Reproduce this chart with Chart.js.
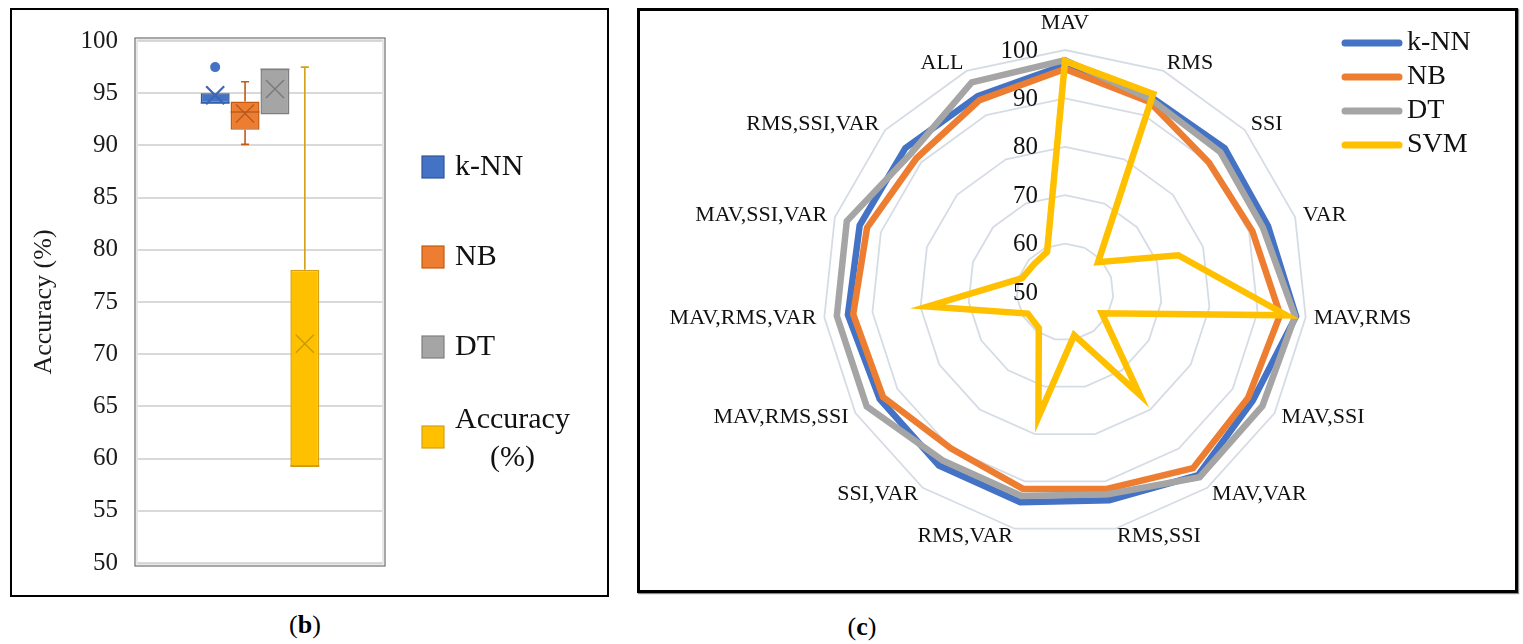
<!doctype html>
<html lang="en">
  <head>
    <meta charset="utf-8">
    <title>Accuracy box plot and radar chart</title>
    <script src="https://cdn.jsdelivr.net/npm/chart.js@4.4.1/dist/chart.umd.min.js"></script>
    <style>
      body { margin: 0; background: #fff; font-family: "Liberation Serif", serif; }
      .panel { position: absolute; box-sizing: border-box; border: 2px solid #000; }
      #panel-b { left: 10px; top: 8px; width: 599px; height: 589px; }
      #panel-c { left: 637px; top: 8px; width: 881px; height: 585px; border-width: 3px; box-shadow: 1px 1px 1px #888; }
      canvas { display: block; }
      .caption { position: absolute; width: 100px; text-align: center; font-size: 26px; line-height: 30px; color: #000; }
    </style>
  </head>

  <body>
    <div class="panel" id="panel-b"><canvas id="box-chart" width="595" height="585"></canvas></div>
    <div class="caption" style="left:255px; top:610px">(<b>b</b>)</div>

    <div class="panel" id="panel-c"><canvas id="radar-chart" width="875" height="579"></canvas></div>
    <div class="caption" style="left:812px; top:612px">(<b>c</b>)</div>

    <script>
        // ---- (b) box plot values ----
        const boxNames = ['k-NN', 'NB', 'DT', 'Accuracy (%)']
        const boxQ1 = [94.05, 91.5, 92.95, 59.2]
        const boxMedian = [94.05, 93.2, 97.3, 59.3]
        const boxQ3 = [95.0, 94.2, 97.3, 78.1]
        const boxMin = [94.05, 90.1, 92.95, 59.2]
        const boxMax = [95.0, 96.1, 97.3, 97.5]
        const boxMean = [94.8, 93.05, 95.4, 71.0]
        const boxOutliers = [[97.5], [], [], []]

        // ---- (c) radar values ----
        const featureSets = ['MAV', 'RMS', 'SSI', 'VAR', 'MAV,RMS', 'MAV,SSI', 'MAV,VAR', 'RMS,SSI',
            'RMS,VAR', 'SSI,VAR', 'MAV,RMS,SSI', 'MAV,RMS,VAR', 'MAV,SSI,VAR', 'RMS,SSI,VAR', 'ALL']
        const knnAcc = [96.9, 94.0, 94.4, 94.1, 98.0, 94.8, 96.8, 94.0, 94.4, 94.3, 94.2, 95.1, 94.6, 94.4, 94.3]
        const nbAcc = [96.1, 93.0, 90.0, 90.7, 94.7, 93.7, 95.0, 91.6, 91.6, 90.0, 93.4, 94.0, 93.0, 91.3, 93.4]
        const dtAcc = [97.9, 93.6, 93.2, 93.0, 97.8, 97.1, 97.3, 92.7, 93.1, 93.0, 97.3, 97.4, 97.4, 92.8, 97.4]
        const svmAcc = [97.7, 94.8, 59.2, 74.6, 96.0, 58.8, 76.2, 59.1, 76.4, 59.2, 58.9, 78.5, 59.3, 58.6, 59.1]

        const SERIF = 'Liberation Serif'

        const boxStyles = [
            { fill: '#4472C4', edge: '#2F5597', mark: '#3A66B8' },
            { fill: '#ED7D31', edge: '#C55A11', mark: '#B85A1C' },
            { fill: '#A5A5A5', edge: '#7F7F7F', mark: '#7A7A7A' },
            { fill: '#FFC000', edge: '#D4A017', mark: '#C99A06' },
        ]

        // legend drawn beside the plot (box or line marker)
        const sideLegend = {
            id: 'sideLegend',
            afterDraw(chart, args, opts) {
                const ctx = chart.ctx
                ctx.save()
                ctx.font = opts.fontSize + 'px "' + SERIF + '"'
                ctx.fillStyle = '#111'
                ctx.textBaseline = 'middle'
                chart.data.datasets.forEach((ds, i) => {
                    const yc = opts.y + i * opts.rowGap
                    if (opts.marker === 'box') {
                        const s = opts.boxSize
                        ctx.fillStyle = ds.backgroundColor
                        ctx.fillRect(opts.x, yc - s / 2, s, s)
                        ctx.strokeStyle = ds.borderColor
                        ctx.lineWidth = 1.2
                        ctx.strokeRect(opts.x, yc - s / 2, s, s)
                    } else {
                        ctx.strokeStyle = ds.borderColor
                        ctx.lineWidth = 7
                        ctx.lineCap = 'round'
                        ctx.beginPath()
                        ctx.moveTo(opts.x + 3, yc)
                        ctx.lineTo(opts.x + opts.lineLength - 3, yc)
                        ctx.stroke()
                    }
                    ctx.fillStyle = '#111'
                    const tx = opts.textX
                    const maxW = chart.width - tx - 4
                    if (ctx.measureText(ds.label).width <= maxW) {
                        ctx.textAlign = 'left'
                        ctx.fillText(ds.label, tx, yc)
                    } else {
                        const lines = ds.label.split(' ')
                        const widest = Math.max(...lines.map(l => ctx.measureText(l).width))
                        ctx.textAlign = 'center'
                        lines.forEach((l, k) => {
                            ctx.fillText(l, tx + widest / 2, yc + 2 + (k - (lines.length - 1) / 2) * opts.lineHeight)
                        })
                    }
                })
                ctx.restore()
            }
        }

        // whiskers, medians, means and outliers on top of the floating bars
        const boxPlot = {
            id: 'boxPlot',
            beforeDatasetsDraw(chart) {
                const ctx = chart.ctx, y = chart.scales.y
                ctx.save()
                chart.data.datasets.forEach((ds, i) => {
                    const bar = chart.getDatasetMeta(i).data[0]
                    const cap = 4
                    ctx.strokeStyle = ds.borderColor
                    ctx.lineWidth = 1.6
                    const segs = [[boxQ3[i], boxMax[i]], [boxQ1[i], boxMin[i]]]
                    segs.forEach(([a, b]) => {
                        if (a === b) return
                        const pa = y.getPixelForValue(a), pb = y.getPixelForValue(b)
                        ctx.beginPath()
                        ctx.moveTo(bar.x, pa)
                        ctx.lineTo(bar.x, pb)
                        ctx.moveTo(bar.x - cap, pb)
                        ctx.lineTo(bar.x + cap, pb)
                        ctx.stroke()
                    })
                })
                ctx.restore()
            },
            afterDatasetsDraw(chart) {
                const ctx = chart.ctx, y = chart.scales.y
                ctx.save()
                chart.data.datasets.forEach((ds, i) => {
                    const bar = chart.getDatasetMeta(i).data[0]
                    const half = bar.width / 2
                    ctx.strokeStyle = ds.markColor
                    ctx.lineWidth = 1.4
                    // median
                    const pm = y.getPixelForValue(boxMedian[i])
                    ctx.beginPath()
                    ctx.moveTo(bar.x - half, pm)
                    ctx.lineTo(bar.x + half, pm)
                    ctx.stroke()
                    // mean as an X
                    const px = y.getPixelForValue(boxMean[i]), s = 9
                    ctx.lineWidth = i === 0 ? 2.2 : 1.4
                    ctx.beginPath()
                    ctx.moveTo(bar.x - s, px - s)
                    ctx.lineTo(bar.x + s, px + s)
                    ctx.moveTo(bar.x + s, px - s)
                    ctx.lineTo(bar.x - s, px + s)
                    ctx.stroke()
                    // outliers
                    boxOutliers[i].forEach(v => {
                        ctx.beginPath()
                        ctx.arc(bar.x, y.getPixelForValue(v), 5, 0, Math.PI * 2)
                        ctx.fillStyle = ds.backgroundColor
                        ctx.fill()
                    })
                })
                // plot area frame
                const a = chart.chartArea
                ctx.strokeStyle = '#6f6f6f'
                ctx.lineWidth = 1.2
                ctx.strokeRect(a.left - 3, a.top - 3, a.right - a.left + 6, a.bottom - a.top + 6)
                ctx.strokeStyle = '#d0d0d0'
                ctx.lineWidth = 1
                ctx.strokeRect(a.left - 1, a.top - 1, a.right - a.left + 2, a.bottom - a.top + 2)
                ctx.restore()
            }
        }

        new Chart(document.getElementById('box-chart'), {
            type: 'bar',
            data: {
                labels: [''],
                datasets: boxNames.map((name, i) => ({
                    label: name,
                    data: [[boxQ1[i], boxQ3[i]]],
                    backgroundColor: boxStyles[i].fill,
                    borderColor: boxStyles[i].edge,
                    markColor: boxStyles[i].mark,
                    borderWidth: 1.5,
                    borderSkipped: false,
                    categoryPercentage: 0.49,
                    barPercentage: 0.97,
                }))
            },
            options: {
                responsive: false,
                animation: false,
                layout: { padding: { top: 31, bottom: 32, left: 0, right: 225 } },
                scales: {
                    x: { display: false },
                    y: {
                        min: 50,
                        max: 100,
                        ticks: { stepSize: 5, padding: 20, color: '#1a1a1a', font: { family: SERIF, size: 25 } },
                        grid: { color: '#d9d9d9', lineWidth: 2, drawTicks: false },
                        border: { display: false },
                        title: {
                            display: true,
                            text: 'Accuracy (%)',
                            color: '#1a1a1a',
                            font: { family: SERIF, size: 26 },
                            padding: { top: 17, bottom: 0 }
                        },
                        afterFit(scale) {
                            scale.width = 126
                            scale.paddingTop = 0
                            scale.paddingBottom = 0
                        }
                    }
                },
                plugins: {
                    legend: { display: false },
                    tooltip: { enabled: false },
                    sideLegend: { marker: 'box', x: 410, y: 157, rowGap: 90, boxSize: 22, textX: 443, fontSize: 30, lineHeight: 38 }
                }
            },
            plugins: [boxPlot, sideLegend]
        })

        // ---- radar ----
        const radarText = {
            id: 'radarText',
            beforeDatasetsDraw(chart) {
                const r = chart.scales.r, ctx = chart.ctx
                ctx.save()
                ctx.font = '25px "' + SERIF + '"'
                ctx.fillStyle = '#111'
                ctx.textAlign = 'right'
                ctx.textBaseline = 'middle'
                r.ticks.forEach(t => {
                    const yy = r.yCenter - r.getDistanceFromCenterForValue(t.value)
                    ctx.fillText(t.label, r.xCenter - 27, yy + 1)
                })
                ctx.restore()
            },
            afterDraw(chart) {
                const r = chart.scales.r, ctx = chart.ctx
                const n = chart.data.labels.length
                ctx.save()
                ctx.font = '22px "' + SERIF + '"'
                ctx.fillStyle = '#111'
                ctx.textBaseline = 'middle'
                chart.data.labels.forEach((label, i) => {
                    const p = r.getPointPosition(i, r.drawingArea + 8)
                    const deg = i * 360 / n
                    let align = 'center', dy = 0
                    if (deg > 1 && deg < 179) align = 'left'
                    else if (deg > 181 && deg < 359) align = 'right'
                    if (deg < 1) dy = -19
                    ctx.textAlign = align
                    ctx.fillText(label, p.x, p.y + dy)
                })
                ctx.restore()
            }
        }

        const radarSeries = [
            { label: 'k-NN', data: knnAcc, color: '#4472C4', order: 4 },
            { label: 'NB', data: nbAcc, color: '#ED7D31', order: 3 },
            { label: 'DT', data: dtAcc, color: '#A5A5A5', order: 2 },
            { label: 'SVM', data: svmAcc, color: '#FFC000', order: 1 },
        ]

        new Chart(document.getElementById('radar-chart'), {
            type: 'radar',
            data: {
                labels: featureSets,
                datasets: radarSeries.map(s => ({
                    label: s.label,
                    data: s.data,
                    order: s.order,
                    borderColor: s.color,
                    backgroundColor: s.color,
                    borderWidth: 6.5,
                    borderJoinStyle: 'miter',
                    fill: false,
                    pointRadius: 0,
                    tension: 0
                }))
            },
            options: {
                responsive: false,
                animation: false,
                layout: { padding: { top: 39, bottom: 56, left: 183, right: 208 } },
                scales: {
                    r: {
                        min: 50,
                        max: 100,
                        ticks: { stepSize: 10, display: false },
                        grid: { color: '#D6DCE5', lineWidth: 1.8, circular: false },
                        angleLines: { display: false },
                        pointLabels: { display: false }
                    }
                },
                plugins: {
                    legend: { display: false },
                    tooltip: { enabled: false },
                    sideLegend: { marker: 'line', x: 702, y: 32, rowGap: 34, lineLength: 60, textX: 767, fontSize: 28, lineHeight: 32 }
                }
            },
            plugins: [radarText, sideLegend]
        })
    </script>
  </body>
</html>
